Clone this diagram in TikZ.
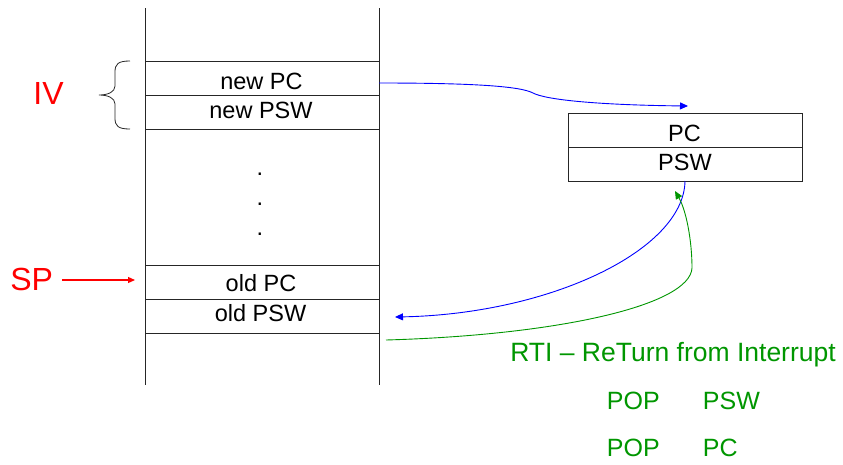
\documentclass[tikz,border=0pt]{standalone}
\usepackage{fontspec}
\setmainfont{Liberation Sans}
\usetikzlibrary{arrows.meta}
\definecolor{rtigreen}{RGB}{0,150,0}
\definecolor{linkblue}{RGB}{0,0,255}
\definecolor{sigred}{RGB}{255,0,0}
\tikzset{
  stackline/.style={draw=black!85, line width=0.9pt},
  cell/.style={anchor=base, inner sep=0pt, font=\fontsize{23.5}{27}\selectfont},
  tag/.style={anchor=base, inner sep=0pt, text=sigred, font=\fontsize{32}{36}\selectfont},
  note/.style={anchor=base, inner sep=0pt, text=rtigreen, font=\fontsize{25}{30}\selectfont},
  tip/.style={-{Triangle[length=8pt,width=7pt]}},
  blueflow/.style={tip, draw=linkblue, line width=0.9pt},
  greenflow/.style={tip, draw=rtigreen, line width=0.9pt},
}
\begin{document}
\begin{tikzpicture}[x=1pt, y=-1pt]
\useasboundingbox (0,0) rectangle (843,464);

% memory stack
\draw[stackline] (145,8) -- (145,385);
\draw[stackline] (379,8) -- (379,385);
\foreach \yy in {61,95,129,265,299,333}
  \draw[stackline] (145,\yy) -- (379,\yy);

\node[cell] (newpc)  at (261.5,89)  {new PC};
\node[cell] (newpsw) at (261,118.5) {new PSW};
\node[cell] (d1) at (260,175) {.};
\node[cell] (d2) at (260,205) {.};
\node[cell] (d3) at (260,235) {.};
\node[cell] (oldpc)  at (261,291.5) {old PC};
\node[cell] (oldpsw) at (260.5,321) {old PSW};

% interrupt vector brace and label
\draw[black!85, line width=0.8pt]
  (130,61) .. controls (118,61) and (115,64) .. (115,72) -- (115,86)
  .. controls (115,92) and (108,95) .. (99,95)
  .. controls (108,95) and (115,98) .. (115,104) -- (115,118)
  .. controls (115,126) and (118,129) .. (130,129);
\node[tag] (iv) at (48.5,104) {IV};

% stack pointer
\node[tag] (sp) at (31.7,290) {SP};
\coordinate (spin) at (135,280);
\draw[sigred, line width=1.2pt, -{Triangle[length=7pt,width=6pt]}] (62,280) -- (spin);

% CPU registers
\draw[stackline] (568,113) rectangle (802,181);
\draw[stackline] (568,147) -- (802,147);
\node[cell] (pc)  at (684.5,141.5) {PC};
\node[cell] (psw) at (685,170.5) {PSW};
\coordinate (pctop) at (688,106);
\coordinate (pswbot) at (685,181);
\coordinate (pswin) at (675,191);

% transfers
\coordinate (newout) at (379,83);
\coordinate (oldin) at (395,317);
\coordinate (rtiout) at (386,340);
\draw[blueflow] (newout) .. controls (470,83) and (520,86) .. (533,93)
  .. controls (546,100) and (600,105) .. (pctop);
\draw[blueflow] (pswbot) .. controls (684,250) and (550,314) .. (oldin);
\draw[greenflow] (rtiout) .. controls (560,335) and (690,305) .. (692,268)
  .. controls (692,240) and (686,210) .. (pswin);

% return-from-interrupt note
\node[note, font=\fontsize{26.5}{30}\selectfont] (rti) at (673,361) {RTI – ReTurn from Interrupt};
\node[note, anchor=base west] (pop1) at (606.7,409) {POP};
\node[note, anchor=base west] (arg1) at (702.7,409) {PSW};
\node[note, anchor=base west] (pop2) at (606.7,456.7) {POP};
\node[note, anchor=base west] (arg2) at (702.7,456.7) {PC};
\end{tikzpicture}
\end{document}
